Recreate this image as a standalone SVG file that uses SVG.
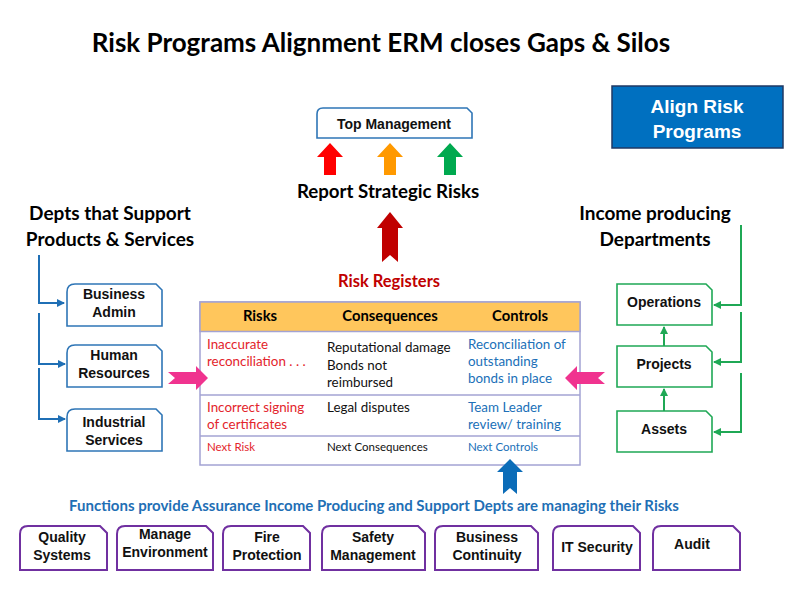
<svg xmlns="http://www.w3.org/2000/svg" width="800" height="600" viewBox="0 0 800 600">
<defs>
<style>
.h{font-family:Lato,"Liberation Sans",sans-serif;font-weight:bold;fill:#000}
.b{font-family:"Liberation Sans",Arial,sans-serif;font-weight:bold;font-size:14px;fill:#111;text-anchor:middle}
.t{font-family:Lato,"Liberation Sans",sans-serif;font-size:13.4px}
.s{font-size:11.5px}
.red{fill:#E3242B}
.blu{fill:#2070B8}
.blk{fill:#111}
.lb{fill:#fff;stroke:#2E75B6;stroke-width:1.6}
.gb{fill:#fff;stroke:#1FA855;stroke-width:1.6}
.pb{fill:#fff;stroke:#7030A0;stroke-width:2}
.bl{fill:none;stroke:#1F6FB5;stroke-width:2}
.gl{fill:none;stroke:#1FA855;stroke-width:2}
</style>
<marker id="ab" markerWidth="8" markerHeight="8" refX="7" refY="4" orient="auto" markerUnits="userSpaceOnUse"><path d="M0,0 L8,4 L0,8 Z" fill="#1F6FB5"/></marker>
<marker id="ag" markerWidth="8" markerHeight="8" refX="7" refY="4" orient="auto" markerUnits="userSpaceOnUse"><path d="M0,0 L8,4 L0,8 Z" fill="#1FA855"/></marker>
</defs>
<rect width="800" height="600" fill="#fff"/>

<text class="h" x="381" y="52" font-size="26" text-anchor="middle">Risk Programs Alignment ERM closes Gaps &amp; Silos</text>

<g id="align">
<rect x="612" y="86" width="171" height="62" fill="#0070C0" stroke="#1F3864" stroke-width="1.5"/>
<text x="697" y="113" font-family="Liberation Sans,Arial,sans-serif" font-weight="bold" font-size="19" fill="#fff" text-anchor="middle">Align Risk</text>
<text x="697" y="138" font-family="Liberation Sans,Arial,sans-serif" font-weight="bold" font-size="19" fill="#fff" text-anchor="middle">Programs</text>
</g>

<g id="top-management">
<path class="lb" d="M323,108 H467 L472,113 V138 H317 V114 Q317,108 323,108 Z"/>
<text class="b" x="394" y="129" font-size="15">Top Management</text>
</g>

<g id="report">
<path d="M330,143 L343,157 L336,157 L336,175 L324,175 L324,157 L317,157 Z" fill="#FF0000"/>
<path d="M390,143 L403,157 L396,157 L396,175 L384,175 L384,157 L377,157 Z" fill="#FF9900"/>
<path d="M450,143 L463,157 L456,157 L456,175 L444,175 L444,157 L437,157 Z" fill="#00A94F"/>
<text class="h" x="388" y="198" font-size="18.7" text-anchor="middle">Report Strategic Risks</text>
<path d="M390,212 L403,228 L398,228 L398,262 L390,255 L382,262 L382,228 L377,228 Z" fill="#C00000"/>
</g>

<g id="risk-registers">
<text class="h" x="389" y="287" font-size="16.5" text-anchor="middle" style="fill:#C00000">Risk Registers</text>
<rect x="200" y="302" width="380" height="163" fill="#fff" stroke="#A3A3D3" stroke-width="1.5"/>
<rect x="200" y="302" width="380" height="29.5" fill="#FFC65C" stroke="#A3A3D3" stroke-width="1.5"/>
<line x1="200" y1="395" x2="580" y2="395" stroke="#A3A3D3" stroke-width="1.5"/>
<line x1="200" y1="436" x2="580" y2="436" stroke="#A3A3D3" stroke-width="1.5"/>
<text class="h" x="260" y="321" font-size="14.8" text-anchor="middle">Risks</text>
<text class="h" x="390" y="321" font-size="14.8" text-anchor="middle">Consequences</text>
<text class="h" x="520" y="321" font-size="14.8" text-anchor="middle">Controls</text>
<text class="t red" x="207" y="349">Inaccurate</text>
<text class="t red" x="207" y="366">reconciliation . . .</text>
<text class="t blk" x="327" y="352">Reputational  damage</text>
<text class="t blk" x="327" y="370">Bonds not</text>
<text class="t blk" x="327" y="387">reimbursed</text>
<text class="t blu" x="468" y="349">Reconciliation of</text>
<text class="t blu" x="468" y="366">outstanding</text>
<text class="t blu" x="468" y="383">bonds in place</text>
<text class="t red" x="207" y="412">Incorrect signing</text>
<text class="t red" x="207" y="429">of certificates</text>
<text class="t blk" x="327" y="412">Legal disputes</text>
<text class="t blu" x="468" y="412">Team Leader</text>
<text class="t blu" x="468" y="429">review/ training</text>
<text class="t s red" x="207" y="451">Next Risk</text>
<text class="t s blk" x="327" y="451">Next Consequences</text>
<text class="t s blu" x="468" y="451">Next Controls</text>
</g>

<g id="depts-support">
<text class="h" x="110" y="220" font-size="19" text-anchor="middle">Depts that Support</text>
<text class="h" x="110" y="246" font-size="19" text-anchor="middle">Products &amp; Services</text>
</g>
<g id="business-admin">
<path class="lb" d="M75,284 H156 L162,290 V326 H67 V292 Q67,284 75,284 Z"/>
<text class="b" x="114" y="299">Business</text>
<text class="b" x="114" y="317">Admin</text>
</g>
<g id="human-resources">
<path class="lb" d="M75,345 H156 L162,351 V387 H67 V353 Q67,345 75,345 Z"/>
<text class="b" x="114" y="360">Human</text>
<text class="b" x="114" y="378">Resources</text>
</g>
<g id="industrial-services">
<path class="lb" d="M75,409 H156 L162,415 V451 H67 V417 Q67,409 75,409 Z"/>
<text class="b" x="114" y="427">Industrial</text>
<text class="b" x="114" y="445">Services</text>
</g>

<g id="income-depts">
<text class="h" x="655" y="220" font-size="19" text-anchor="middle">Income producing</text>
<text class="h" x="655" y="246" font-size="19" text-anchor="middle">Departments</text>
</g>
<g id="operations">
<path class="gb" d="M617,284 H706 L712,290 V325 H617 Z"/>
<text class="b" x="664" y="307">Operations</text>
</g>
<g id="projects">
<path class="gb" d="M617,346 H706 L712,352 V387 H617 Z"/>
<text class="b" x="664" y="369">Projects</text>
</g>
<g id="assets">
<path class="gb" d="M617,411 H706 L712,417 V452 H617 Z"/>
<text class="b" x="664" y="434">Assets</text>
</g>

<text x="374" y="511" font-family="Lato,'Liberation Sans',sans-serif" font-weight="bold" font-size="15" fill="#1F6FB5" text-anchor="middle">Functions provide Assurance Income Producing and Support Depts are managing their Risks</text>

<g id="quality-systems">
<path class="pb" d="M28,526 H100 L107,533 V570 H20 V534 Q20,526 28,526 Z"/>
<text class="b" x="62" y="542">Quality</text>
<text class="b" x="62" y="560">Systems</text>
</g>
<g id="manage-environment">
<path class="pb" d="M125,526 H206 L213,533 V570 H117 V534 Q117,526 125,526 Z"/>
<text class="b" x="165" y="539">Manage</text>
<text class="b" x="165" y="557">Environment</text>
</g>
<g id="fire-protection">
<path class="pb" d="M231,526 H303 L310,533 V570 H223 V534 Q223,526 231,526 Z"/>
<text class="b" x="267" y="542">Fire</text>
<text class="b" x="267" y="560">Protection</text>
</g>
<g id="safety-management">
<path class="pb" d="M330,526 H418 L425,533 V570 H322 V534 Q322,526 330,526 Z"/>
<text class="b" x="373" y="542">Safety</text>
<text class="b" x="373" y="560">Management</text>
</g>
<g id="business-continuity">
<path class="pb" d="M443,526 H531 L538,533 V570 H435 V534 Q435,526 443,526 Z"/>
<text class="b" x="487" y="542">Business</text>
<text class="b" x="487" y="560">Continuity</text>
</g>
<g id="it-security">
<path class="pb" d="M561,526 H633 L640,533 V570 H553 V534 Q553,526 561,526 Z"/>
<text class="b" x="597" y="552">IT Security</text>
</g>
<g id="audit">
<path class="pb" d="M661,526 H733 L740,533 V570 H653 V534 Q653,526 661,526 Z"/>
<text class="b" x="692" y="549">Audit</text>
</g>

<g id="connectors">
<path class="bl" d="M39,255 V303 H64" marker-end="url(#ab)"/>
<path class="bl" d="M39,313 V364 H65" marker-end="url(#ab)"/>
<path class="bl" d="M39,368 V419 H65" marker-end="url(#ab)"/>
<path class="gl" d="M741,225 V305 H714" marker-end="url(#ag)"/>
<path class="gl" d="M741,312 V362 H714" marker-end="url(#ag)"/>
<path class="gl" d="M741,373 V432 H714" marker-end="url(#ag)"/>
<path class="gl" d="M664,411 V389" marker-end="url(#ag)"/>
<path class="gl" d="M664,346 V327" marker-end="url(#ag)"/>
<path d="M208,378 L196,366 L196,372 L168,372 L175,378 L168,384 L196,384 L196,390 Z" fill="#F0338F"/>
<path d="M565,378 L577,366 L577,372 L605,372 L598,378 L605,384 L577,384 L577,390 Z" fill="#F0338F"/>
<path d="M510,459 L523,472 L517,472 L517,494 L510,488 L503,494 L503,472 L497,472 Z" fill="#0B6CB8"/>
</g>
</svg>
